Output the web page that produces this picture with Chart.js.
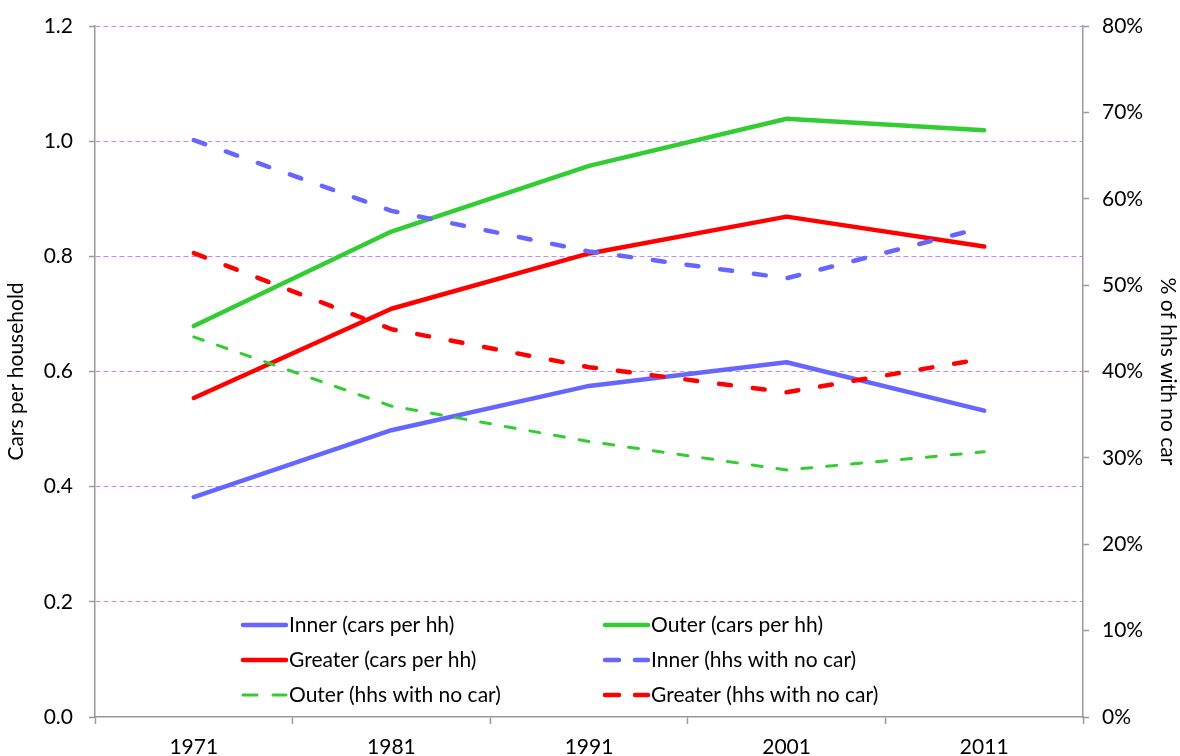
<!DOCTYPE html>
<html>
<head>
<meta charset="utf-8">
<title>Car ownership 1971-2011</title>
<script src="https://cdn.jsdelivr.net/npm/chart.js@4"></script>
<style>
  html, body { margin: 0; padding: 0; background: #fff; overflow: hidden; }
  canvas { display: block; }
</style>
</head>
<body>
<canvas id="carsChart" width="1180" height="756"></canvas>
<script>
// census years
const years = ['1971', '1981', '1991', '2001', '2011'];

// cars per household (left axis)
const innerCars = [0.382, 0.498, 0.575, 0.616, 0.532];
const outerCars = [0.679, 0.843, 0.957, 1.039, 1.019];
const greaterCars = [0.554, 0.709, 0.805, 0.869, 0.817];

// % of households with no car (right axis)
const innerNoCar = [66.8, 58.6, 53.9, 50.8, 56.7];
const outerNoCar = [44.0, 36.0, 31.9, 28.6, 30.7];
const greaterNoCar = [53.7, 44.9, 40.5, 37.6, 41.5];

const BLUE = '#6666ff';
const GREEN = '#33cc33';
const RED = '#ff0000';
const GRID = '#c08cff';
const AXIS = '#999999';
const FONT = 'Lato';
const TEXT = '#000';

Chart.defaults.font.family = FONT;
Chart.defaults.color = TEXT;

function series(label, data, color, axis, dash, width) {
    return {
        label: label,
        data: data,
        yAxisID: axis,
        borderColor: color,
        backgroundColor: color,
        borderWidth: width,
        borderDash: dash,
        borderCapStyle: 'round',
        borderJoinStyle: 'round',
        pointRadius: 0,
        tension: 0,
        fill: false
    };
}

const datasets = [
    series('Inner (cars per hh)', innerCars, BLUE, 'y', [], 4.5),
    series('Outer (cars per hh)', outerCars, GREEN, 'y', [], 4.5),
    series('Greater (cars per hh)', greaterCars, RED, 'y', [], 4.5),
    series('Inner (hhs with no car)', innerNoCar, BLUE, 'y2', [12, 22], 4.5),
    series('Outer (hhs with no car)', outerNoCar, GREEN, 'y2', [10, 15], 3),
    series('Greater (hhs with no car)', greaterNoCar, RED, 'y2', [12, 22], 4.5)
];
// later series sit on top of earlier ones
datasets.forEach((d, i) => { d.order = datasets.length - i; });

// legend drawn inside the plot, two columns by three rows
const insideLegend = {
    id: 'insideLegend',
    afterDraw(chart) {
        const ctx = chart.ctx;
        const colX = [241, 603];
        const rowY = [625, 660, 695];
        const sample = 45;
        ctx.save();
        chart.data.datasets.forEach((ds, i) => {
            const x = colX[i % 2];
            const y = rowY[Math.floor(i / 2)];
            ctx.strokeStyle = ds.borderColor;
            ctx.lineWidth = ds.borderWidth;
            ctx.lineCap = 'round';
            ctx.setLineDash(ds.borderDash.length ? [14, 16] : []);
            ctx.beginPath();
            ctx.moveTo(x + 2, y);
            ctx.lineTo(x + sample, y);
            ctx.stroke();
            ctx.setLineDash([]);
            ctx.fillStyle = TEXT;
            ctx.font = '21px ' + FONT;
            ctx.textBaseline = 'middle';
            ctx.textAlign = 'left';
            ctx.fillText(ds.label, x + sample + 3, y);
        });
        ctx.restore();
    }
};

function fixWidth(w) {
    return function (scale) {
        scale.width = w;
        scale.paddingTop = 0;
        scale.paddingBottom = 0;
    };
}

new Chart(document.getElementById('carsChart'), {
    type: 'line',
    data: { labels: years, datasets: datasets },
    plugins: [insideLegend],
    options: {
        responsive: false,
        devicePixelRatio: 1,
        animation: false,
        layout: { padding: { top: 26, left: 0, right: 0, bottom: 0 } },
        plugins: {
            legend: { display: false },
            tooltip: { enabled: false }
        },
        scales: {
            x: {
                offset: true,
                grid: {
                    offset: true,
                    drawOnChartArea: false,
                    drawTicks: true,
                    tickLength: 7,
                    tickColor: AXIS,
                    tickWidth: 1.5
                },
                border: { display: true, color: AXIS, width: 1.5 },
                ticks: { font: { size: 21 }, color: TEXT, padding: 11, maxRotation: 0 },
                afterFit(scale) {
                    scale.height = 39;
                    scale.paddingLeft = 0;
                    scale.paddingRight = 0;
                }
            },
            y: {
                position: 'left',
                min: 0,
                max: 1.2,
                grid: {
                    color: (c) => (c.tick && c.tick.value === 0 ? 'rgba(0,0,0,0)' : GRID),
                    lineWidth: 1,
                    drawTicks: true,
                    tickLength: 6,
                    tickColor: AXIS,
                    tickWidth: 1.5,
                    tickBorderDash: []
                },
                border: { display: true, color: AXIS, width: 1.5, dash: [5, 3] },
                ticks: {
                    stepSize: 0.2,
                    font: { size: 21 },
                    color: TEXT,
                    padding: 16,
                    callback: (v) => Number(v).toFixed(1)
                },
                title: {
                    display: true,
                    text: 'Cars per household',
                    font: { size: 21 },
                    color: TEXT,
                    padding: { top: 4, bottom: 0 }
                },
                afterFit: fixWidth(95)
            },
            y2: {
                position: 'right',
                min: 0,
                max: 80,
                grid: {
                    drawOnChartArea: false,
                    drawTicks: true,
                    tickLength: 6,
                    tickColor: AXIS,
                    tickWidth: 1.5
                },
                border: { display: true, color: AXIS, width: 1.5 },
                ticks: {
                    stepSize: 10,
                    font: { size: 21 },
                    color: TEXT,
                    padding: 13,
                    callback: (v) => v + '%'
                },
                title: {
                    display: true,
                    text: '% of hhs with no car',
                    font: { size: 21 },
                    color: TEXT,
                    padding: { top: 0, bottom: 0 }
                },
                afterFit: fixWidth(97)
            }
        }
    }
});
</script>
</body>
</html>
